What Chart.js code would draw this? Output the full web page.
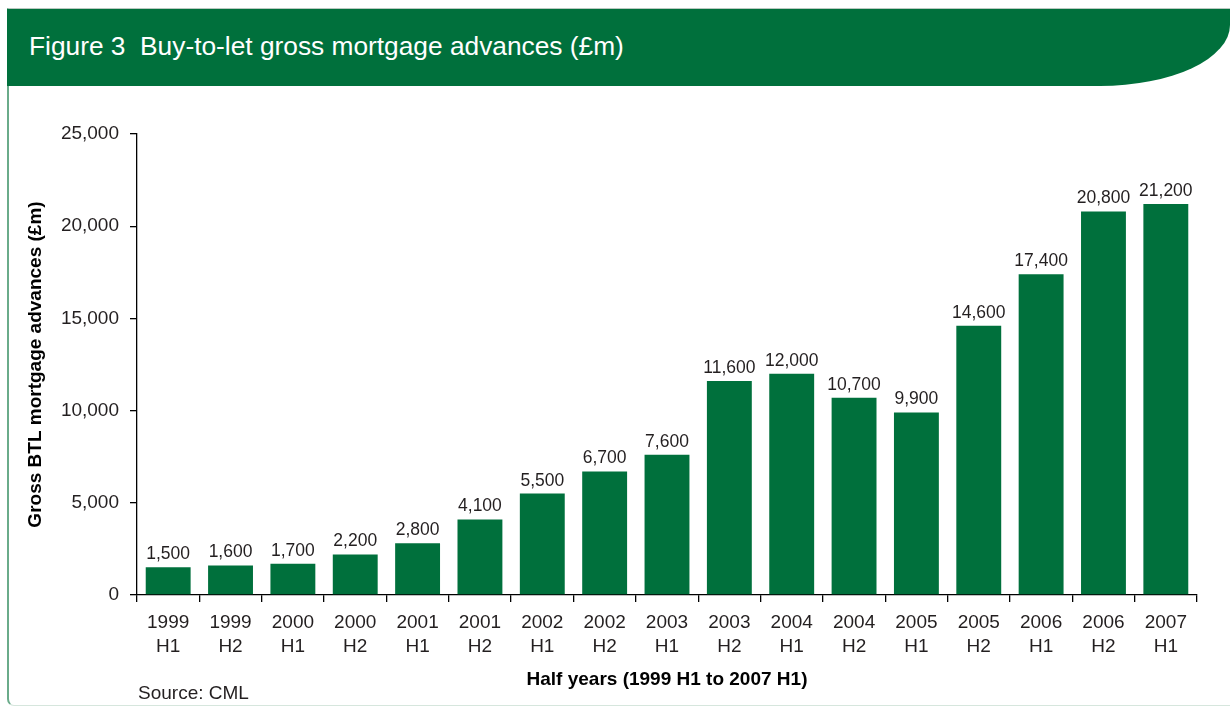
<!DOCTYPE html>
<html>
<head>
<meta charset="utf-8">
<script src="https://cdn.jsdelivr.net/npm/chart.js@4.4.1/dist/chart.umd.min.js"></script>
<style>
  html, body { margin: 0; padding: 0; background: #fff; }
  body { width: 1230px; height: 708px; position: relative; overflow: hidden; font-family: "Liberation Sans", Arial, sans-serif; }
  #panel {
    position: absolute; left: 7px; top: 8px; width: 1260px; height: 696px;
    border-left: 2px solid #6aab8a; border-bottom: 1px solid #d6e6dd; border-top: 1px solid #b9c9c0;
    border-bottom-left-radius: 7px;
  }
  #header {
    position: absolute; left: 7px; top: 9px; width: 1223px; height: 77px;
    background: #00703c; border-bottom-right-radius: 130px 61px; z-index: 2;
  }
  #header span {
    position: absolute; left: 22px; top: 24px; color: #fff; font-size: 26.3px; line-height: 26px; white-space: pre;
  }
  #source { position: absolute; left: 138px; top: 683px; font-size: 19px; line-height: 19px; color: #231f20; z-index: 2; }
  #wrap { position: absolute; left: 0; top: 0; width: 1230px; height: 708px; z-index: 1; }
</style>
</head>
<body>
<div id="panel"></div>
<div id="header"><span>Figure 3  Buy-to-let gross mortgage advances (£m)</span></div>
<div id="wrap"><canvas id="grafico" width="1230" height="708"></canvas></div>
<div id="source">Source: CML</div>
<script>
// dados
const periodos = [
  ['1999', 'H1'], ['1999', 'H2'], ['2000', 'H1'], ['2000', 'H2'], ['2001', 'H1'], ['2001', 'H2'],
  ['2002', 'H1'], ['2002', 'H2'], ['2003', 'H1'], ['2003', 'H2'], ['2004', 'H1'], ['2004', 'H2'],
  ['2005', 'H1'], ['2005', 'H2'], ['2006', 'H1'], ['2006', 'H2'], ['2007', 'H1']
];
const adiantamentos = [1500, 1600, 1700, 2200, 2800, 4100, 5500, 6700, 7600, 11600, 12000, 10700, 9900, 14600, 17400, 20800, 21200];
const yTicks = [0, 5000, 10000, 15000, 20000, 25000];

const verde = '#00703c';
const texto = '#231f20';

// rotulos em cima das barras
const rotulosBarras = {
  id: 'rotulosBarras',
  afterDatasetsDraw(chart) {
    const ctx = chart.ctx;
    const meta = chart.getDatasetMeta(0);
    ctx.save();
    ctx.font = '17.5px "Liberation Sans", Arial, sans-serif';
    ctx.fillStyle = texto;
    ctx.textAlign = 'center';
    ctx.textBaseline = 'alphabetic';
    meta.data.forEach((bar, i) => {
      ctx.fillText(adiantamentos[i].toLocaleString('en-US'), bar.x, bar.y - 8);
    });
    ctx.restore();
  }
};

const ctx = document.getElementById('grafico').getContext('2d');
const chartBTL = new Chart(ctx, {
  type: 'bar',
  data: {
    labels: periodos,
    datasets: [{
      label: 'Gross BTL mortgage advances',
      data: adiantamentos,
      backgroundColor: verde,
      borderWidth: 0,
      barPercentage: 0.72,
      categoryPercentage: 1
    }]
  },
  options: {
    responsive: false,
    animation: false,
    locale: 'en-US',
    layout: { padding: { top: 134, right: 33, bottom: 0, left: 0 } },
    plugins: {
      legend: { display: false },
      tooltip: { enabled: false }
    },
    scales: {
      x: {
        grid: { display: true, drawOnChartArea: false, offset: true, tickLength: 7, color: '#000', lineWidth: 1.3 },
        border: { display: true, color: '#000', width: 1.3 },
        ticks: {
          color: texto, padding: 8, maxRotation: 0, autoSkip: false,
          font: { family: '"Liberation Sans", Arial, sans-serif', size: 19, lineHeight: 1.3 }
        },
        title: {
          display: true, text: 'Half years (1999 H1 to 2007 H1)', color: '#000',
          font: { family: '"Liberation Sans", Arial, sans-serif', size: 19, weight: 'bold' },
          padding: { top: 0, bottom: 17 }
        },
        afterFit(scale) { scale.height = 113; }
      },
      y: {
        min: 0, max: 25000,
        afterBuildTicks(scale) { scale.ticks = yTicks.map(v => ({ value: v })); },
        grid: { display: true, drawOnChartArea: false, tickLength: 7, color: '#000', lineWidth: 1.3 },
        border: { display: true, color: '#000', width: 1.3 },
        ticks: {
          color: texto, padding: 11,
          font: { family: '"Liberation Sans", Arial, sans-serif', size: 19 },
          callback: v => v.toLocaleString('en-US')
        },
        title: {
          display: true, text: 'Gross BTL mortgage advances (£m)', color: '#000',
          font: { family: '"Liberation Sans", Arial, sans-serif', size: 19, weight: 'bold' },
          padding: { top: 24, bottom: 0 }
        },
        afterFit(scale) { scale.width = 137; }
      }
    }
  },
  plugins: [rotulosBarras]
});
</script>
</body>
</html>
